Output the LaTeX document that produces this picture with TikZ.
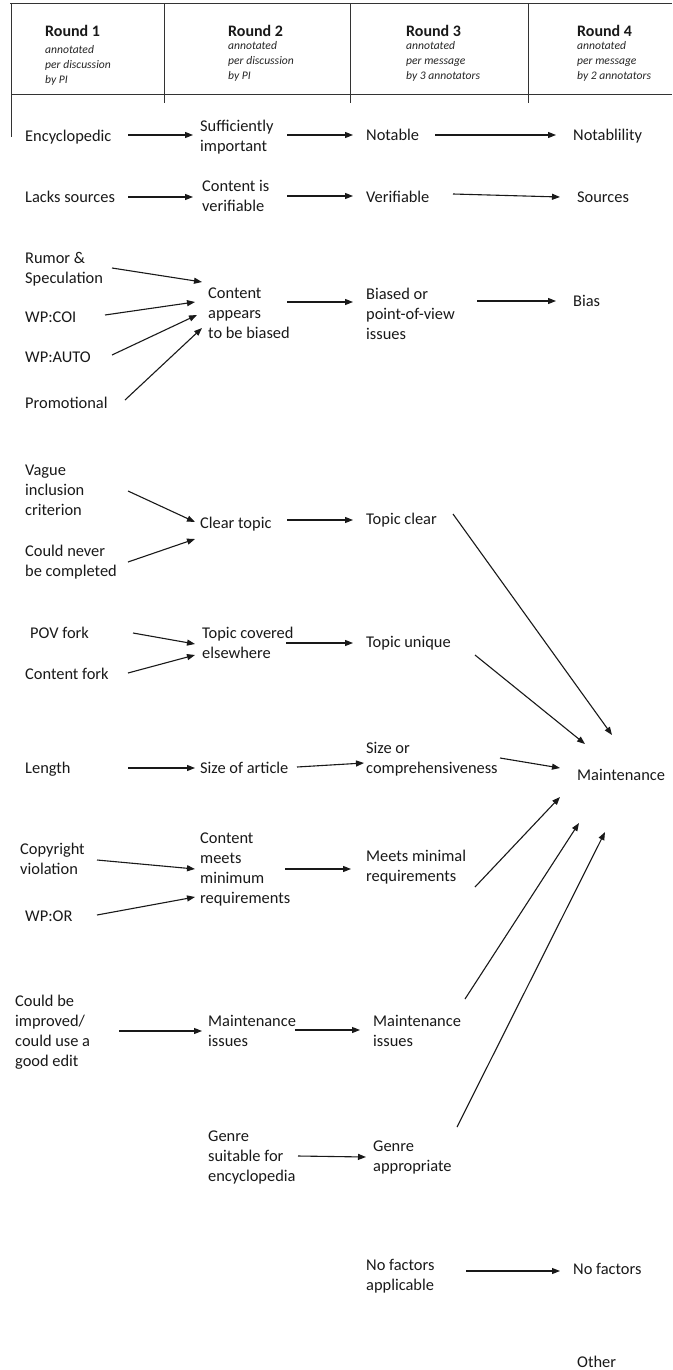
\documentclass[tikz,border=0pt]{standalone}
\usepackage{fontspec}
\setmainfont{Carlito}
\usetikzlibrary{arrows.meta,calc}
\newcommand\mystrut{\rule[-5pt]{0pt}{18pt}}
\newcommand\smstrut{\rule[-3pt]{0pt}{12pt}}
\tikzset{
  lbl/.style={anchor=west, inner sep=0pt, align=left, text=black!90,
    font=\fontsize{16.4}{20}\selectfont,
    execute at begin node=\mystrut, execute at end node=\mystrut},
  rtitle/.style={anchor=west, inner sep=0pt, align=left, text=black!90,
    font=\fontsize{16}{20}\selectfont\bfseries,
    execute at begin node=\mystrut, execute at end node=\mystrut},
  rnote/.style={anchor=west, inner sep=0pt, align=left, text=black!85,
    font=\fontsize{11.6}{15}\selectfont\itshape,
    execute at begin node=\smstrut, execute at end node=\smstrut},
  arr/.style={-{Triangle[length=8pt,width=6pt]}, line width=1.1pt, black!90},
  frame/.style={line width=1pt, black!80}
}
\begin{document}
\begin{tikzpicture}[x=1pt,y=-1pt]
\useasboundingbox (0,0) rectangle (672,1370);
\fill[white] (0,0) rectangle (672,1370);
% header frame
\draw[frame] (10,4) -- (672,4);
\draw[frame] (11,4) -- (11,137);
\draw[frame] (11,95) -- (672,95);
\draw[frame] (164,4) -- (164,103);
\draw[frame] (350,4) -- (350,103);
\draw[frame] (528,4) -- (528,103);
% header texts
\node[rtitle] (r1t) at (45,33) {Round 1};
\node[rnote] (r1n) at (45,66) {annotated\\per discussion\\by PI};
\node[rtitle] (r2t) at (228,33) {Round 2};
\node[rnote] (r2n) at (228,62) {annotated\\per discussion\\by PI};
\node[rtitle] (r3t) at (406,33) {Round 3};
\node[rnote] (r3n) at (406,62) {annotated\\per message\\by 3 annotators};
\node[rtitle] (r4t) at (577,33) {Round 4};
\node[rnote] (r4n) at (577,62) {annotated\\per message\\by 2 annotators};
% nodes
\node[lbl] (enc) at (25,138) {Encyclopedic};
\node[lbl] (suf) at (200,138) {Sufficiently\\important};
\node[lbl] (notable) at (366,137) {Notable};
\node[lbl] (notab) at (573,137) {Notablility};
\node[lbl] (lacks) at (25,198) {Lacks sources};
\node[lbl] (cis) at (202,198) {Content is\\verifiable};
\node[lbl] (verif) at (366,198) {Verifiable};
\node[lbl] (sources) at (577,198) {Sources};
\node[lbl] (rumor) at (25,270) {Rumor \&\\Speculation};
\node[lbl] (coi) at (25,318) {WP:COI};
\node[lbl] (auto) at (25,358) {WP:AUTO};
\node[lbl] (promo) at (25,404) {Promotional};
\node[lbl] (cab) at (208,316) {Content\\appears\\to be biased};
\node[lbl] (biased) at (366,316) {Biased or\\point-of-view\\issues};
\node[lbl] (bias) at (573,302) {Bias};
\node[lbl] (vague) at (25,493) {Vague\\inclusion\\criterion};
\node[lbl] (never) at (25,563.5) {Could never\\be completed};
\node[lbl] (clear) at (200,524) {Clear topic};
\node[lbl] (tclear) at (366,520) {Topic clear};
\node[lbl] (pov) at (30,634) {POV fork};
\node[lbl] (cfork) at (25,675) {Content fork};
\node[lbl] (tcov) at (202,645.5) {Topic covered\\elsewhere};
\node[lbl] (tuniq) at (366,643) {Topic unique};
\node[lbl] (length) at (25,769) {Length};
\node[lbl] (sizeart) at (200,769) {Size of article};
\node[lbl] (sizecomp) at (366,760) {Size or\\comprehensiveness};
\node[lbl] (maint) at (577,776) {Maintenance};
\node[lbl] (copy) at (20,861) {Copyright\\violation};
\node[lbl] (wpor) at (25,917) {WP:OR};
\node[lbl] (cmeets) at (200,871) {Content\\meets\\minimum\\requirements};
\node[lbl] (meets) at (366,868) {Meets minimal\\requirements};
\node[lbl] (could) at (15,1033) {Could be\\improved/\\could use a\\good edit};
\node[lbl] (mi1) at (208,1033) {Maintenance\\issues};
\node[lbl] (mi2) at (373,1033) {Maintenance\\issues};
\node[lbl] (genre1) at (208,1159) {Genre\\suitable for\\encyclopedia};
\node[lbl] (genre2) at (373,1159) {Genre\\appropriate};
\node[lbl] (nofa) at (366,1277.5) {No factors\\applicable};
\node[lbl] (nof) at (573,1270) {No factors};
\node[lbl] (other) at (577,1363) {Other};
% connectors
\draw[arr] ($(enc.west)+(103,-3)$) -- ($(suf.west)+(-7,-3)$);
\draw[arr] ($(suf.west)+(87,-3)$) -- ($(notable.west)+(-13,-2)$);
\draw[arr] ($(notable.west)+(69,-2)$) -- ($(notab.west)+(-17,-2)$);
\draw[arr] ($(lacks.west)+(103,-1)$) -- ($(cis.west)+(-9,-1)$);
\draw[arr] ($(cis.west)+(85,-2)$) -- ($(verif.west)+(-13,-2)$);
\draw[arr] ($(verif.west)+(87,-4)$) -- ($(sources.west)+(-17,-1)$);
\draw[arr] ($(rumor.west)+(87,-2)$) -- ($(cab.west)+(-6,-34)$);
\draw[arr] ($(coi.west)+(80,-3)$) -- ($(cab.west)+(-13,-14)$);
\draw[arr] ($(auto.west)+(87,-3)$) -- ($(cab.west)+(-11,-1)$);
\draw[arr] ($(promo.west)+(100,-4)$) -- ($(cab.west)+(-6,12)$);
\draw[arr] ($(cab.west)+(79,-14)$) -- ($(biased.west)+(-13,-14)$);
\draw[arr] ($(biased.west)+(111,-15)$) -- ($(bias.west)+(-17,-1)$);
\draw[arr] ($(vague.west)+(103,-2)$) -- ($(clear.west)+(-5,-2)$);
\draw[arr] ($(never.west)+(103,-1.5)$) -- ($(clear.west)+(-5,15)$);
\draw[arr] ($(clear.west)+(87,-4)$) -- ($(tclear.west)+(-13,0)$);
\draw[arr] ($(tclear.west)+(87,-6)$) -- ($(maint.west)+(35,-41)$);
\draw[arr] ($(pov.west)+(103,-1)$) -- ($(tcov.west)+(-7,-1.5)$);
\draw[arr] ($(cfork.west)+(103,-2)$) -- ($(tcov.west)+(-7,9.5)$);
\draw[arr] ($(tcov.west)+(84,-2.5)$) -- ($(tuniq.west)+(-13,0)$);
\draw[arr] ($(tuniq.west)+(109,12)$) -- ($(maint.west)+(8,-32)$);
\draw[arr] ($(length.west)+(103,-1)$) -- ($(sizeart.west)+(-5,-1)$);
\draw[arr] ($(sizeart.west)+(97,-2)$) -- ($(sizecomp.west)+(-2,3)$);
\draw[arr] ($(sizecomp.west)+(134,-2)$) -- ($(maint.west)+(-17,-8)$);
\draw[arr] ($(copy.west)+(77,-1)$) -- ($(cmeets.west)+(-5,-2)$);
\draw[arr] ($(wpor.west)+(72,-2)$) -- ($(cmeets.west)+(-5,26)$);
\draw[arr] ($(cmeets.west)+(85,-2)$) -- ($(meets.west)+(-15,1)$);
\draw[arr] ($(meets.west)+(109,19)$) -- ($(maint.west)+(-17,21)$);
\draw[arr] ($(could.west)+(104,-2)$) -- ($(mi1.west)+(-6,-2)$);
\draw[arr] ($(mi1.west)+(87,-3)$) -- ($(mi2.west)+(-13,-3)$);
\draw[arr] ($(mi2.west)+(92,-34)$) -- ($(maint.west)+(2,47)$);
\draw[arr] ($(genre1.west)+(90,-3)$) -- ($(genre2.west)+(-7,-2)$);
\draw[arr] ($(genre2.west)+(84,-32)$) -- ($(maint.west)+(28,56)$);
\draw[arr] ($(nofa.west)+(100,-6.5)$) -- ($(nof.west)+(-13,1)$);
\end{tikzpicture}
\end{document}
